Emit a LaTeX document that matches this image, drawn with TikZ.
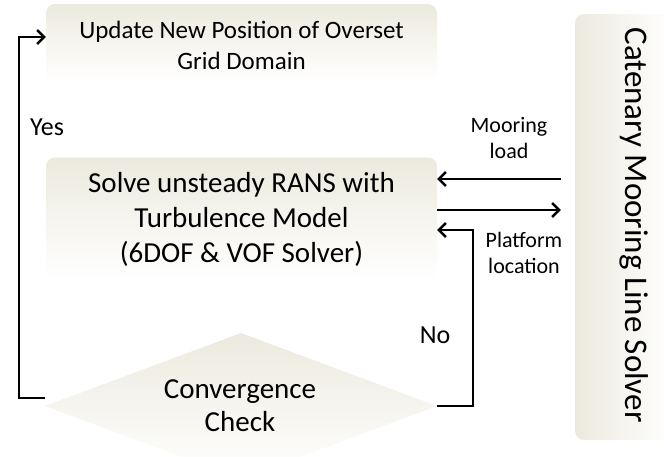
\documentclass[tikz,border=0pt]{standalone}
\usepackage{fontspec}
\setmainfont{Carlito}
\usetikzlibrary{arrows.meta,shapes.geometric}
\definecolor{beige}{RGB}{236,234,222}
\begin{document}
\begin{tikzpicture}[x=1pt,y=-1pt,
  boxstyle/.style={rounded corners=9pt,top color=beige,bottom color=white,draw=none,align=center,inner sep=0pt},
  arr/.style={line width=2.8pt,-{Straight Barb[length=7pt,width=14pt,line width=2.4pt]}},
  lbl/.style={font=\fontsize{22}{26}\selectfont,align=center}]
\useasboundingbox (0,0) rectangle (664,456);
\clip (0,0) rectangle (664,456);
\node[boxstyle,minimum width=391pt,minimum height=78pt] (top) at (241.5,43) {};
\node[align=center,font=\fontsize{25}{31}\selectfont] (toptext) at (241.5,45) {Update New Position of Overset\\Grid Domain};
\node[boxstyle,minimum width=391pt,minimum height=123pt,font=\fontsize{29}{35}\selectfont] (mid) at (241.5,219) {Solve unsteady RANS with\\Turbulence Model\\(6DOF \& VOF Solver)};
\coordinate (dN) at (241,333);
\coordinate (dE) at (437,406);
\coordinate (dS) at (241,479);
\coordinate (dW) at (45,406);
\path[top color=beige,bottom color=white] (dN) -- (dE) -- (dS) -- (dW) -- cycle;
\node[align=center,font=\fontsize{29}{33}\selectfont] (dia) at (240,406) {Convergence\\Check};
\node[rounded corners=9pt,left color=beige,right color=white,draw=none,minimum width=100pt,minimum height=426pt,inner sep=0pt] (sol) at (625,227) {};
\node[rotate=-90,font=\fontsize{33}{36}\selectfont] (soltext) at (634,225) {Catenary Mooring Line Solver};
\draw[arr] ([yshift=8pt]dW) -- ++(-26,0) |- ([yshift=6pt]top.west);
\node[font=\fontsize{26}{30}\selectfont] (yes) at (47,127) {Yes};
\draw[arr] (dE) -- ++(36,0) |- ([yshift=-11pt]mid.east);
\node[font=\fontsize{26}{30}\selectfont] (no) at (435,335) {No};
\draw[arr] ([xshift=-14pt,yshift=48pt]sol.west) -- ([yshift=40pt]mid.east);
\draw[arr] ([yshift=9pt]mid.east) -- ([xshift=-14pt,yshift=17pt]sol.west);
\node[lbl] (ml) at (509,138) {Mooring\\load};
\node[lbl] (pl) at (524,253) {Platform\\location};
\end{tikzpicture}
\end{document}
